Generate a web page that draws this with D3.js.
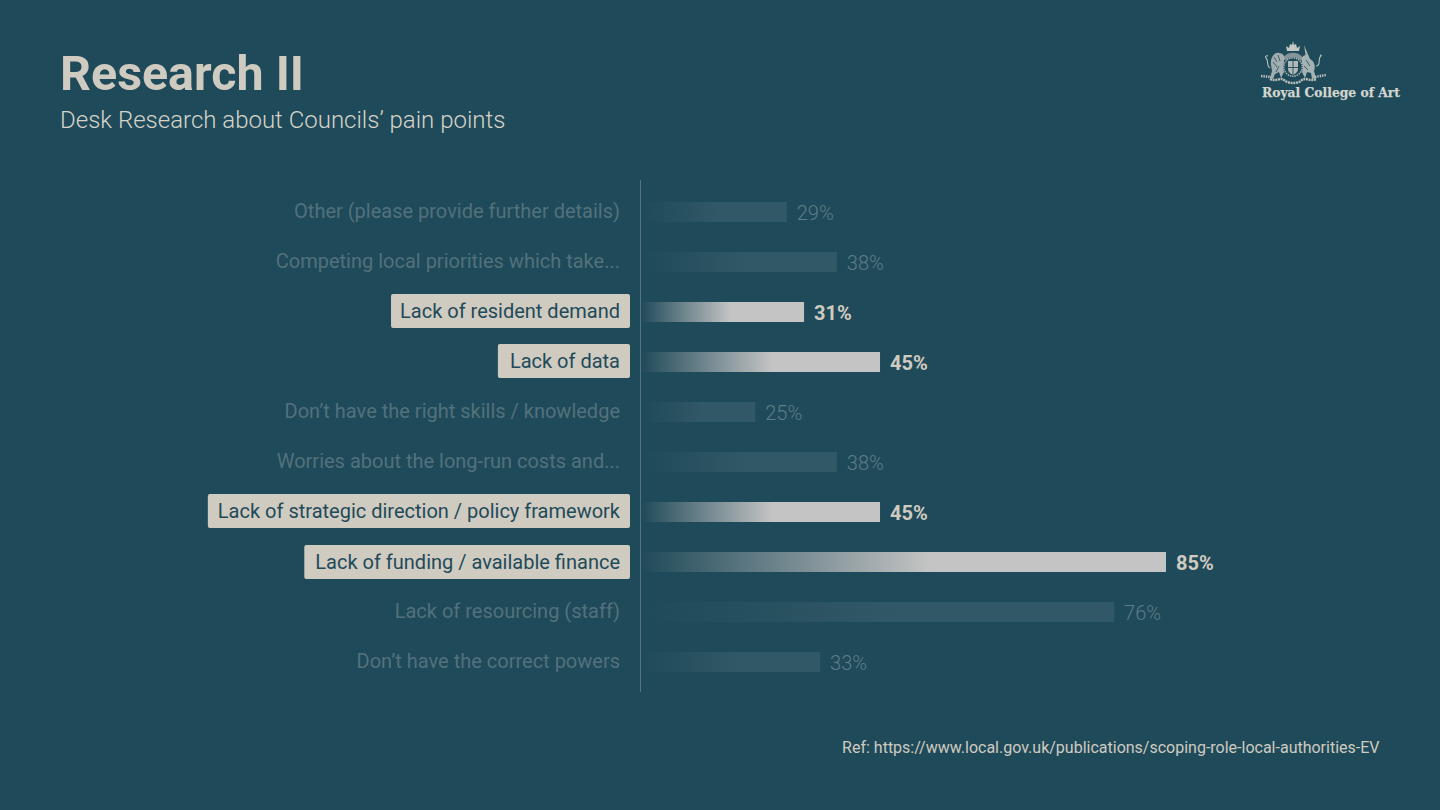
<!DOCTYPE html>
<html><head><meta charset="utf-8">
<script src="https://cdnjs.cloudflare.com/ajax/libs/d3/7.8.5/d3.min.js"></script>
<style>html,body{margin:0;padding:0;background:#1f4a59;overflow:hidden}svg{display:block}text{font-family:Roboto,sans-serif}</style>
</head><body><svg id="c" width="1440" height="810"></svg>
<script>
const categories=["Other (please provide further details)","Competing local priorities which take...","Lack of resident demand","Lack of data","Don’t have the right skills / knowledge","Worries about the long-run costs and...","Lack of strategic direction / policy framework","Lack of funding / available finance","Lack of resourcing (staff)","Don’t have the correct powers"];
const valueLabels=["29%","38%","31%","45%","25%","38%","45%","85%","76%","33%"];
const barValues=[23.6,31.7,26.4,38.7,18.5,31.7,38.7,85,76.6,29];
const highlighted=[false,false,true,true,false,false,true,true,false,false];
const rowCentres=[212,262,312,362,412,462,512,562,612,662];

const svg=d3.select("#c");
const bg="#1f4a59";
const x=d3.scaleLinear().domain([0,85]).range([641,1166]);
const y=d3.scalePoint().domain(categories).range([rowCentres[0],rowCentres[9]]);
const defs=svg.append("defs");
const gHi=defs.append("linearGradient").attr("id","gHi");
gHi.append("stop").attr("offset","0").attr("stop-color","#c4c4c4").attr("stop-opacity",0);
gHi.append("stop").attr("offset","0.55").attr("stop-color","#c4c4c4").attr("stop-opacity",1);
const gLo=defs.append("linearGradient").attr("id","gLo");
gLo.append("stop").attr("offset","0").attr("stop-color","#315867").attr("stop-opacity",0);
gLo.append("stop").attr("offset","0.55").attr("stop-color","#315867").attr("stop-opacity",1);

svg.append("text").attr("x",60).attr("y",90).attr("font-size",48.4).attr("font-weight",700).attr("fill","#cfcbc1").text("Research II");
svg.append("text").attr("x",60).attr("y",128).attr("font-size",24).attr("font-weight",300).attr("fill","#d6d3ca").text("Desk Research about Councils’ pain points");

svg.append("line").attr("x1",640.5).attr("x2",640.5).attr("y1",180).attr("y2",692).attr("stroke","#56737f").attr("stroke-width",1);

const labelNudge=c=>c==="Lack of funding / available finance"?1:0;
const boxPad={"Lack of resident demand":9,"Lack of data":12,"Lack of strategic direction / policy framework":10,"Lack of funding / available finance":11};
const rows=svg.selectAll("g.row").data(categories).join("g").attr("class","row");
rows.append("rect").attr("x",x(0)).attr("y",c=>y(c)-10)
  .attr("width",(c,i)=>x(barValues[i])-x(0)).attr("height",20)
  .attr("fill",(c,i)=>highlighted[i]?"url(#gHi)":"url(#gLo)");
rows.append("text").attr("x",(c,i)=>x(barValues[i])+10).attr("y",c=>y(c)+8)
  .attr("font-size",20).attr("font-weight",(c,i)=>highlighted[i]?700:300)
  .attr("fill",(c,i)=>highlighted[i]?"#cfcbc1":"#5d7c87")
  .text((c,i)=>valueLabels[i]);
const labels=rows.append("text").attr("x",620).attr("y",c=>y(c)+6+labelNudge(c)).attr("text-anchor","end")
  .attr("font-size",20).attr("fill",(c,i)=>highlighted[i]?"#1f4a59":"#52717c").text(c=>c);
labels.each(function(c,i){
  if(!highlighted[i])return;
  const b=this.getBBox();
  d3.select(this.parentNode).insert("rect","text").attr("x",b.x-boxPad[c]).attr("y",y(c)-18+labelNudge(c)).attr("width",630-b.x+boxPad[c]).attr("height",34).attr("rx",2).attr("fill","#cfcbc1");
});

svg.append("text").attr("x",1379.5).attr("y",753).attr("text-anchor","end").attr("font-size",16).attr("fill","#cfcbc1").text("Ref: https://www.local.gov.uk/publications/scoping-role-local-authorities-EV");

// Royal College of Art crest
const ink="#d3d6d0";
const crest=svg.append("g").attr("fill",ink).attr("stroke","none");
crest.append("path").attr("opacity",.9).attr("d","M1287 51 L1286 46 L1289 48 L1290 44 L1292 45 L1293 41 L1294 45 L1296 44 L1297 48 L1300 46 L1299 51 Z");
crest.append("path").attr("opacity",.55).attr("d","M1283 58 C1287 51 1299 51 1303 58 L1301 60 L1285 60 Z");
crest.append("path").attr("opacity",.72).attr("d","M1270 78 L1272 71 L1271 65 C1270 57 1275 52 1279 53 C1284 53 1285 57 1284 61 L1284 72 L1281 78 L1279 72 L1275 74 L1273 79 Z");
crest.append("path").attr("fill","none").attr("stroke",bg).attr("stroke-width",.8).attr("d","M1274 57 L1277 62 M1278 55 L1280 61 M1273 62 L1277 67 M1276 72 L1279 66");
crest.append("path").attr("opacity",.75).attr("d","M1316 78 L1314 71 C1316 66 1314 61 1310 59 L1304 45 L1305.5 55 C1302 56 1301 59 1302 62 L1302 72 L1305 78 L1307 72 L1311 73 L1312 79 Z");
crest.append("path").attr("fill","none").attr("stroke",bg).attr("stroke-width",.8).attr("d","M1306 60 L1310 66 M1304 66 L1308 70");
crest.append("path").attr("fill","none").attr("stroke",ink).attr("stroke-width",1.1).attr("opacity",.85).attr("d","M1270 68 C1266 66 1269 60 1266 58 C1265 57 1266 55 1268 56 M1316 66 C1321 66 1318 60 1320 57 C1321 56 1322 55 1320 55");
crest.append("circle").attr("cx",1293).attr("cy",67).attr("r",10).attr("fill",bg);
crest.append("circle").attr("cx",1293).attr("cy",67).attr("r",9.2).attr("fill","none").attr("stroke",ink).attr("stroke-width",1.4).attr("stroke-dasharray","1.5 .8").attr("opacity",.8);
crest.append("path").attr("opacity",.8).attr("d","M1288 61 H1298 V69 C1298 72 1295 74 1293 75 C1291 74 1288 72 1288 69 Z");
crest.append("path").attr("fill","none").attr("stroke",bg).attr("stroke-width",.9).attr("d","M1293 61 V75 M1288 67.5 H1298");
crest.append("path").attr("fill","none").attr("stroke",ink).attr("stroke-width",2.4).attr("stroke-dasharray","2 .7").attr("opacity",.85).attr("d","M1270 79 C1276 82 1280 77 1284 80 C1288 84 1298 84 1302 80 C1306 77 1310 82 1316 79");
crest.append("path").attr("fill","none").attr("stroke",ink).attr("stroke-width",2.6).attr("stroke-dasharray","1.4 1").attr("opacity",.85).attr("d","M1261 76 L1271 77 M1315 77 L1326 75");
crest.append("text").attr("x",1262).attr("y",97).attr("font-size",13.6).attr("font-weight",700).attr("fill",ink).attr("stroke",ink).attr("stroke-width",.25).attr("style","font-family:'DejaVu Serif',serif").attr("textLength",138).attr("lengthAdjust","spacingAndGlyphs").text("Royal College of Art");
</script></body></html>
